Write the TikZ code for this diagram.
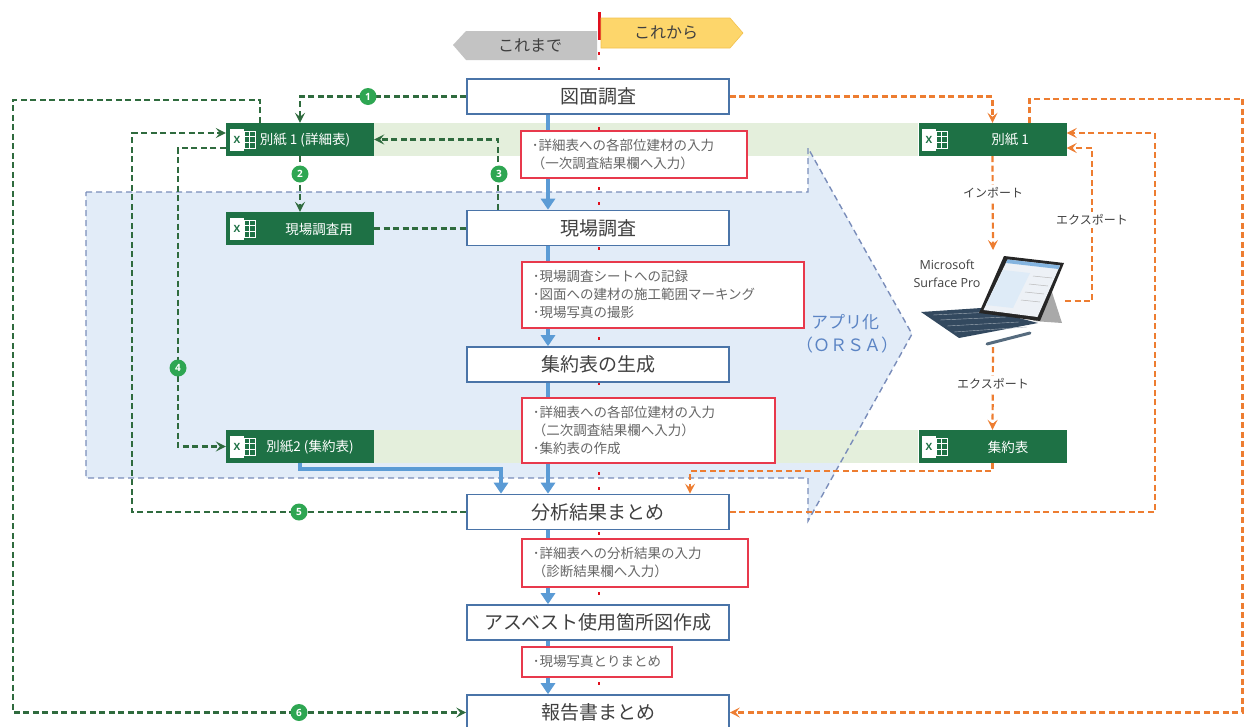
\documentclass[tikz,border=0pt]{standalone}
\usepackage{fontspec}
\setmainfont{Noto Sans CJK JP}
\newfontfamily\latinfont{Open Sans}
\usetikzlibrary{arrows.meta}
\pgfdeclarelayer{back}
\pgfdeclarelayer{mid}
\pgfsetlayers{back,mid,main}
\definecolor{boxblue}{HTML}{4A74A8}
\definecolor{flowblue}{HTML}{5B9BD5}
\definecolor{notered}{HTML}{E8394C}
\definecolor{notetext}{HTML}{666666}
\definecolor{darktext}{HTML}{404040}
\definecolor{xlgreen}{HTML}{1E7145}
\definecolor{numgreen}{HTML}{2EA652}
\definecolor{linkgreen}{HTML}{2F6B3E}
\definecolor{linkorange}{HTML}{ED7D31}
\definecolor{bandgreen}{HTML}{E4EFDC}
\definecolor{appfill}{HTML}{E2ECF8}
\definecolor{appline}{HTML}{7A8DBA}
\definecolor{apptext}{HTML}{5B84C4}
\definecolor{pastgrey}{HTML}{C3C3C3}
\definecolor{nextgold}{HTML}{FDD66B}
\definecolor{nextedge}{HTML}{F2C14E}
\definecolor{axisred}{HTML}{E0101E}
\definecolor{kbblue}{HTML}{33495F}
\definecolor{bezel}{HTML}{262626}
\definecolor{screen}{HTML}{EDF1F6}
\definecolor{stand}{HTML}{A9A9A9}
\definecolor{penblue}{HTML}{566B7E}

\tikzset{
  xlicon/.pic={
    \fill[white] (0,-11) rectangle (14,11);
    \node[font=\bfseries\latinfont\fontsize{10}{10}\selectfont, text=xlgreen, inner sep=0pt] at (7,0.5) {X};
    \draw[white, line width=0.9pt] (14,-8.5) rectangle (25,8.5);
    \draw[white, line width=0.7pt] (14,-3) -- (25,-3) (14,2.8) -- (25,2.8) (19.5,-8.5) -- (19.5,8.5);
  }
}

\begin{document}
\begin{tikzpicture}[x=1pt,y=-1pt,
  stage/.style={draw=boxblue, line width=1.6pt, fill=white, minimum width=262pt, minimum height=35pt, inner sep=0pt, text=darktext, font=\fontsize{19}{21}\selectfont},
  note/.style={draw=notered, line width=1.5pt, fill=white, anchor=north west, align=left, inner xsep=11pt, inner ysep=0pt, text=notetext, font=\fontsize{13.5}{18}\selectfont},
  sheet/.style={fill=xlgreen, minimum width=148pt, minimum height=33pt, inner sep=0pt},
  sheettext/.style={text=white, font=\fontsize{13.5}{16}\selectfont, inner sep=0pt},
  flow/.style={draw=flowblue, line width=3.8pt, -{Triangle[length=11pt,width=14pt]}},
  glink/.style={draw=linkgreen, line width=2.2pt, dash pattern=on 6pt off 3.5pt},
  olink/.style={draw=linkorange, line width=2.2pt, dash pattern=on 6pt off 3.5pt},
  gtip/.style={-{Stealth[length=10pt,width=10pt,inset=4pt]}},
  num/.style={circle, fill=numgreen, text=white, minimum size=17pt, inner sep=0pt, font=\bfseries\latinfont\fontsize{10}{10}\selectfont},
  lbl/.style={fill=white, text=darktext, inner xsep=2pt, inner ysep=3pt, font=\fontsize{12}{14}\selectfont},
]
\useasboundingbox (0,0) rectangle (1245,726);

% ---------- app area and sheet bands ----------
\begin{pgfonlayer}{back}
  \fill[appfill] (86,192) -- (808,192) -- (808,148) -- (912,334) -- (808,521) -- (808,478) -- (86,478) -- cycle;
  \fill[bandgreen] (374,123) rectangle (918,156);
  \fill[bandgreen] (374,430) rectangle (918,463);
  \draw[appline, line width=1.4pt, dash pattern=on 6pt off 4pt]
    (86,192) -- (808,192) -- (808,148) -- (912,334) -- (808,521) -- (808,478) -- (86,478) -- cycle;
\end{pgfonlayer}

% ---------- past / future header ----------
\fill[pastgrey] (453,45) -- (466,31) -- (597,31) -- (597,60) -- (466,60) -- cycle;
\node[text=darktext, font=\fontsize{16}{18}\selectfont] (past) at (530,46) {これまで};
\filldraw[fill=nextgold, draw=nextedge, line width=0.6pt] (601,18) -- (730,18) -- (743,33) -- (730,48) -- (601,48) -- cycle;
\node[text=darktext, font=\fontsize{16}{18}\selectfont] (next) at (666,33) {これから};

% ---------- main workflow ----------
\node[stage] (zumen) at (598,96.5) {図面調査};
\node[stage] (genba) at (598,228) {現場調査};
\node[stage] (shuyaku) at (598,364.5) {集約表の生成};
\node[stage] (bunseki) at (598,512) {分析結果まとめ};
\node[stage] (zusaku) at (598,622.5) {アスベスト使用箇所図作成};
\node[stage] (houkoku) at (598,712.5) {報告書まとめ};

\node[note, text width=204pt, minimum height=47pt] (n1) at (520,130) {･詳細表への各部位建材の入力\\（一次調査結果欄へ入力）};
\node[note, text width=260pt, minimum height=66pt] (n2) at (521,261) {･現場調査シートへの記録\\･図面への建材の施工範囲マーキング\\･現場写真の撮影};
\node[note, text width=231pt, minimum height=65pt] (n3) at (521,397) {･詳細表への各部位建材の入力\\（二次調査結果欄へ入力）\\･集約表の作成};
\node[note, text width=204pt, minimum height=48pt] (n4) at (521,538) {･詳細表への分析結果の入力\\（診断結果欄へ入力）};
\node[note, text width=128pt, minimum height=30pt] (n5) at (521,646) {･現場写真とりまとめ};

% ---------- spreadsheets ----------
\node[sheet] (b1) at (300,139.5) {};
\pic at (230,139.5) {xlicon};
\node[sheettext] (b1t) at (305,140) {別紙 1 (詳細表)};
\node[sheet] (genbayo) at (300,228.5) {};
\pic at (230,228.5) {xlicon};
\node[sheettext] (gyt) at (319,229) {現場調査用};
\node[sheet] (b2) at (300,446.5) {};
\pic at (230,446.5) {xlicon};
\node[sheettext] (b2t) at (310,447) {別紙2 (集約表)};
\node[sheet] (b1r) at (992.5,139.5) {};
\pic at (922,139.5) {xlicon};
\node[sheettext] (b1rt) at (1010,140) {別紙 1};
\node[sheet] (s2r) at (992.5,446.5) {};
\pic at (922,446.5) {xlicon};
\node[sheettext] (s2rt) at (1008,447) {集約表};

% ---------- tablet ----------
\fill[stand] (1033,321) -- (1050,286) -- (1062,323) -- cycle;
\fill[kbblue] (921,312) -- (981,308) -- (1038,323) -- (959,338) -- cycle;
\draw[white!55!kbblue, line width=0.4pt] (933,315) -- (992,312) (940,320) -- (1006,317) (947,326) -- (1019,322) (954,332) -- (1027,327);
\fill[bezel] (1004,256) -- (1064,263) -- (1040,321) -- (979,313) -- cycle;
\fill[screen] (1007.5,259.5) -- (1060,265.5) -- (1037.5,317) -- (983.5,310) -- cycle;
\fill[flowblue!75] (1007.5,259.5) -- (1060,265.5) -- (1058.5,269) -- (1006,263) -- cycle;
\fill[flowblue!20] (1003,270) -- (1030,273) -- (1013,308) -- (986,305) -- cycle;
\draw[gray!55, line width=0.5pt] (1033,276) -- (1052,278) (1029,284) -- (1048,286) (1025,292) -- (1044,294) (1021,300) -- (1040,302);
\draw[penblue, line width=3pt, line cap=round] (987,344) -- (1030,333);
\coordinate (sfT) at (993,250);
\coordinate (sfB) at (993,347);
\coordinate (sfR) at (1065,301);
\node[text=darktext, align=center, font=\latinfont\fontsize{12.5}{18}\selectfont, inner sep=0pt] (sfname) at (947,274) {Microsoft\\Surface Pro};

% ---------- app label ----------
\node[text=apptext, font=\fontsize{17}{19}\selectfont] (app1) at (845,322) {アプリ化};
\node[text=apptext, font=\fontsize{17}{19}\selectfont] (app2) at (847,345) {（ＯＲＳＡ）};

% ---------- connectors ----------
\begin{pgfonlayer}{mid}
  % time axis
  \draw[axisred, line width=2.8pt, dash pattern=on 2.8pt off 12.2pt] (599,52) -- (599,726);
  \draw[axisred, line width=3pt] (599,12) -- (599,40);
  % workflow
  \draw[flow] ([xshift=-50pt]zumen.south) -- ([xshift=-50pt]genba.north);
  \draw[flow] ([xshift=-50pt]genba.south) -- ([xshift=-50pt]shuyaku.north);
  \draw[flow] ([xshift=-50pt]shuyaku.south) -- ([xshift=-50pt]bunseki.north);
  \draw[flow] ([xshift=-50pt]bunseki.south) -- ([xshift=-50pt]zusaku.north);
  \draw[flow] ([xshift=-50pt]zusaku.south) -- ([xshift=-50pt]houkoku.north);
  \draw[flow] (b2.south) -- ++(0,6) -| ([xshift=-97pt]bunseki.north);
  % spreadsheet links (manual)
  \draw[glink, gtip] (zumen.west) -| (b1.north);
  \draw[glink, gtip] (b1.south) -- (genbayo.north);
  \draw[glink, gtip] ([xshift=32pt]genba.north west) |- (b1.east);
  \draw[glink] (genbayo.east) -- (genbayo.east -| genba.west);
  \draw[glink, gtip] ([yshift=-8.5pt]b1.west) -- ++(-48,0) |- (b2.west);
  \draw[glink, gtip] (bunseki.west) -- ++(-334,0) |- ([yshift=6.5pt]b1.west);
  \draw[glink, gtip] ([xshift=-40pt]b1.north) -- ++(0,-23) -- ++(-247,0) |- (houkoku.west);
  % spreadsheet links (app)
  \draw[olink, gtip] (zumen.east) -| (b1r.north);
  \draw[olink, gtip] (b1r.south) -- (sfT);
  \draw[olink, gtip] ([xshift=37pt]b1r.north) -- ++(0,-24) -- ++(213,0) |- (houkoku.east);
  \draw[olink, gtip] (sfR) -- ++(27,0) |- ([yshift=-8.5pt]b1r.east);
  \draw[olink, gtip] (bunseki.east) -- ++(425,0) |- ([yshift=6.5pt]b1r.east);
  \draw[olink, gtip] (sfB) -- (s2r.north);
  \draw[olink, gtip] (s2r.south) -- ++(0,8) -| ([xshift=92pt]bunseki.north);
\end{pgfonlayer}

% ---------- link labels ----------
\node[num] (c1) at (368,96.5) {1};
\node[num] (c2) at (300,174) {2};
\node[num] (c3) at (499,174) {3};
\node[num] (c4) at (178,368) {4};
\node[num] (c5) at (299,512) {5};
\node[num] (c6) at (299,712.5) {6};
\node[lbl] (imp) at (993,193) {インポート};
\node[lbl] (exp1) at (1092,220) {エクスポート};
\node[lbl] (exp2) at (993,384) {エクスポート};

\end{tikzpicture}
\end{document}
